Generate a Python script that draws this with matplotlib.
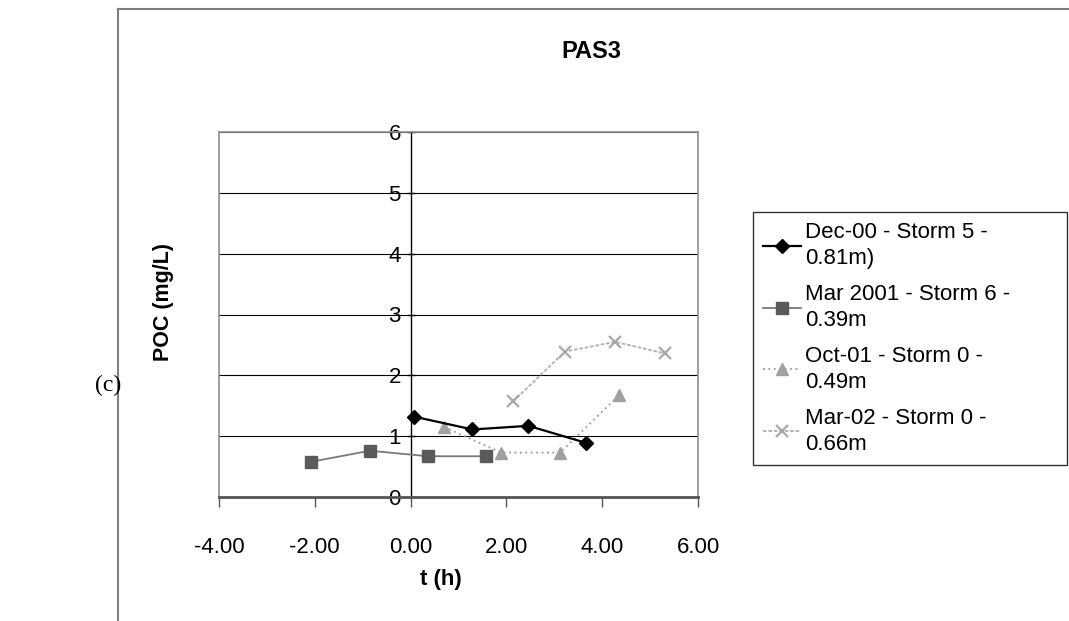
import matplotlib
matplotlib.use("Agg")
import matplotlib.pyplot as plt
from matplotlib.lines import Line2D
from matplotlib.ticker import FormatStrFormatter

plt.rcParams["font.family"] = ["Liberation Sans", "DejaVu Sans"]
plt.rcParams["axes.unicode_minus"] = False

# storm events (time in h, POC in mg/L)
dec00_t = [0.08, 1.29, 2.46, 3.66]
dec00_poc = [1.32, 1.11, 1.17, 0.89]
mar01_t = [-2.07, -0.85, 0.37, 1.57]
mar01_poc = [0.58, 0.76, 0.67, 0.67]
oct01_t = [0.70, 1.89, 3.12, 4.36]
oct01_poc = [1.15, 0.73, 0.73, 1.68]
mar02_t = [2.14, 3.22, 4.27, 5.31]
mar02_poc = [1.57, 2.39, 2.55, 2.36]

labels = [
    "Dec-00 - Storm 5 -\n0.81m)",
    "Mar 2001 - Storm 6 -\n0.39m",
    "Oct-01 - Storm 0 -\n0.49m",
    "Mar-02 - Storm 0 -\n0.66m",
]
x_ticks = [-4, -2, 0, 2, 4, 6]
y_ticks = [0, 1, 2, 3, 4, 5, 6]

W, H = 1069, 621
fig = plt.figure(figsize=(W / 100, H / 100), dpi=100)
ax = fig.add_axes([219 / W, 1 - 497 / H, 479 / W, 365 / H])

for y in y_ticks[1:]:
    ax.axhline(y, color="black", lw=0.8, zorder=1)

ax.plot(dec00_t, dec00_poc, color="black", lw=1.6, marker="D", ms=7,
        mfc="black", mec="black", label=labels[0], zorder=5)
ax.plot(mar01_t, mar01_poc, color="#7a7a7a", lw=1.3, marker="s", ms=8,
        mfc="#5a5a5a", mec="#5a5a5a", label=labels[1], zorder=4)
ax.plot(oct01_t, oct01_poc, color="#9a9a9a", lw=1.3, ls=(0, (1, 2)),
        marker="^", ms=9, mfc="#a0a0a0", mec="#a0a0a0", label=labels[2], zorder=3)
ax.plot(mar02_t, mar02_poc, color="#b0b0b0", lw=1.3, ls=(0, (2, 1)),
        marker="x", ms=9, mew=1.6, mec="#a8a8a8", label=labels[3], zorder=3)

ax.set_xlim(-4, 6)
ax.set_ylim(0, 6)
ax.set_xticks(x_ticks)
ax.set_yticks(y_ticks)
ax.xaxis.set_major_formatter(FormatStrFormatter("%.2f"))

# value axis crosses at t = 0, like the spreadsheet chart
ax.spines["left"].set_position(("data", 0))
ax.spines["left"].set_color("black")
ax.spines["left"].set_linewidth(1.0)
ax.spines["bottom"].set_color("#555555")
ax.spines["bottom"].set_linewidth(2.0)
for s in ["top", "right"]:
    ax.spines[s].set_color("#909090")
    ax.spines[s].set_linewidth(1.2)
# left frame edge of the plot area
ax.add_line(Line2D([0, 0], [0, 1], transform=ax.transAxes, color="#909090",
                   lw=1.2, clip_on=False))

ax.tick_params(axis="x", direction="out", length=7, width=1, color="#555555",
               pad=22, labelsize=16)
ax.tick_params(axis="y", direction="inout", length=6, width=1, pad=4,
               labelsize=16)

fig.text(591 / W, 1 - 52 / H, "PAS3", ha="center", va="center",
         fontsize=17, fontweight="bold")
fig.text(441 / W, 1 - 580 / H, "t (h)", ha="center", va="center",
         fontsize=16, fontweight="bold")
fig.text(163 / W, 1 - 302 / H, "POC (mg/L)", ha="center", va="center",
         rotation=90, fontsize=15.5, fontweight="bold")
fig.text(108 / W, 1 - 385 / H, "(c)", ha="center", va="center",
         fontsize=17, family="Liberation Serif")

# outer chart frame (runs off the right and bottom edges)
fig.add_artist(Line2D([118 / W, 118 / W], [0, 1 - 9 / H], color="#808080", lw=1.5))
fig.add_artist(Line2D([118 / W, 1], [1 - 9 / H, 1 - 9 / H], color="#808080", lw=1.5))

leg = fig.legend(loc="upper left",
                 bbox_to_anchor=(753 / W, 1 - 462 / H, 314 / W, 250 / H),
                 mode="expand", fontsize=16, frameon=True, fancybox=False,
                 handlelength=1.7, handletextpad=0.2, labelspacing=0.68,
                 borderpad=0.45, borderaxespad=0)
for t in leg.get_texts():
    t.set_linespacing(1.3)
leg.get_frame().set_edgecolor("black")
leg.get_frame().set_linewidth(1.0)

fig.savefig("out.png", dpi=100)
